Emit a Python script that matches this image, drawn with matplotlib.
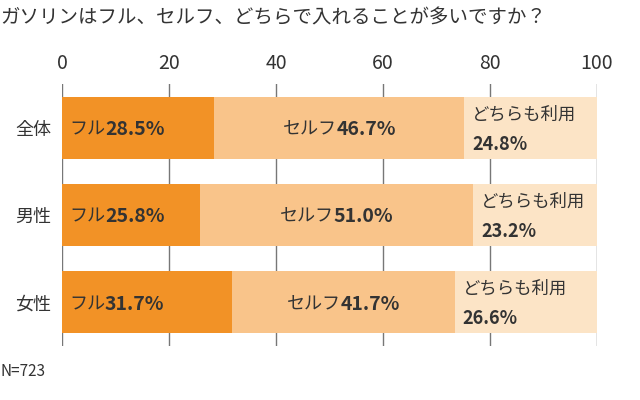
import matplotlib
matplotlib.use("Agg")
import matplotlib.pyplot as plt

plt.rcParams['font.family'] = ['Noto Sans CJK JP', 'DejaVu Sans']

title = "ガソリンはフル、セルフ、どちらで入れることが多いですか？"
groups = ["全体", "男性", "女性"]
full = [28.5, 25.8, 31.7]
self_ = [46.7, 51.0, 41.7]
both = [24.8, 23.2, 26.6]
ticks = [0, 20, 40, 60, 80, 100]

c1, c2, c3 = "#F29226", "#F9C48A", "#FCE4C6"
tc = "#333333"

fig = plt.figure(figsize=(6.4, 4.0), dpi=100)
ax = fig.add_axes([62/640, 1-346/400, (597-62)/640, (346-84)/400])
ys = list(range(len(groups)))
h = 0.71
ax.barh(ys, full, height=h, color=c1, zorder=2)
ax.barh(ys, self_, left=full, height=h, color=c2, zorder=2)
lefts = [a + b for a, b in zip(full, self_)]
ax.barh(ys, both, left=lefts, height=h, color=c3, zorder=2)
ax.set_xlim(0, 100)
ax.set_ylim(2.5, -0.5)
ax.set_xticks(ticks)
ax.xaxis.tick_top()
ax.tick_params(axis='x', length=0, labelsize=14, colors=tc, pad=7)
ax.set_yticks(ys)
ax.set_yticklabels(groups, fontsize=13, color=tc)
ax.tick_params(axis='y', length=0, pad=8)
for s in ax.spines.values():
    s.set_visible(False)
ax.grid(axis='x', color="#777777", linewidth=1, zorder=0)

fig.canvas.draw()
r = fig.canvas.get_renderer()

def two_part(x, y, a, b, ha='left'):
    t1 = ax.text(x, y, a, fontsize=13, color=tc, va='center', ha='left', zorder=3)
    t2 = ax.annotate(b, xy=(1, 0.5), xycoords=t1, fontsize=14, fontweight='bold',
                     color=tc, va='center', ha='left', zorder=3)
    if ha == 'center':
        w = t1.get_window_extent(r).width + t2.get_window_extent(r).width
        inv = ax.transData.inverted()
        px = ax.transData.transform((x, y))[0] - w/2
        t1.set_x(inv.transform((px, 0))[0])

for i in ys:
    two_part(1.3, i + 0.02, "フル", f"{full[i]}%")
    two_part(full[i] + self_[i]/2, i + 0.02, "セルフ", f"{self_[i]}%", ha='center')
    ax.text(lefts[i] + 1.5, i - 0.15, "どちらも利用", fontsize=12.5, color=tc, va='center', zorder=3)
    ax.text(lefts[i] + 1.5, i + 0.19, f"{both[i]}%", fontsize=13, fontweight='bold', color=tc, va='center', zorder=3)

fig.text(0.0, 1-18/400, title, fontsize=14, color=tc, va='center', ha='left')
fig.text(0.0, 1-372/400, "N=723", fontsize=11, color=tc, va='center', ha='left')
fig.savefig("out.png", dpi=100)
